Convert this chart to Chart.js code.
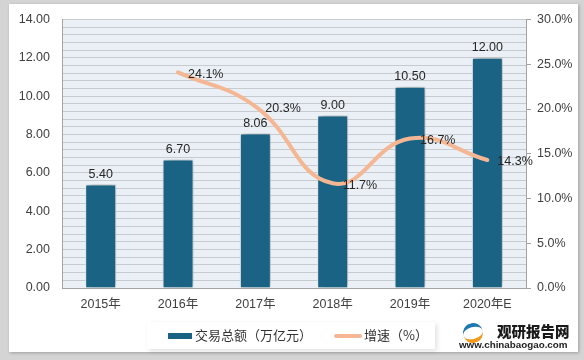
<!DOCTYPE html>
<html>
<head>
<meta charset="utf-8">
<script src="https://cdn.jsdelivr.net/npm/chart.js@4.4.1/dist/chart.umd.min.js"></script>
<style>
  html, body { margin: 0; padding: 0; }
  body { width: 584px; height: 360px; background: #d4d4d4; position: relative; overflow: hidden;
         font-family: 'Liberation Sans', 'Noto Sans CJK SC', sans-serif; }
  .panel { position: absolute; left: 9px; top: 4px; width: 569px; height: 348px; background: #fff;
           box-shadow: 1px 1px 3px rgba(0,0,0,0.25); }
  #chart { position: absolute; left: 0; top: 0; }
  .legend { position: absolute; left: 147px; top: 322px; width: 288px; height: 27px; background: #fff;
            box-shadow: 2px 2px 5px rgba(0,0,0,0.12); font-family: 'Noto Sans CJK SC', sans-serif;
            font-size: 13px; color: #333; }
  .legend .item { position: absolute; top: 4px; line-height: 18px; white-space: nowrap; }
  .sw-bar { display: inline-block; width: 24px; height: 6px; background: #1b6385; vertical-align: middle; margin-right: 3px; }
  .sw-line { display: inline-block; width: 28px; height: 4px; border-radius: 2px; background: #f5b793; vertical-align: middle; margin-right: 2px; }
  .brand { position: absolute; left: 497px; top: 320px; font-family: 'Noto Sans CJK SC', sans-serif; font-weight: 900;
           font-size: 14.5px; color: #1a1a1a; }
  .site { position: absolute; left: 459px; top: 339px; font-family: 'Liberation Sans', sans-serif; font-weight: bold;
          font-size: 9.8px; color: #222; }
  .logo { position: absolute; left: 463px; top: 323px; width: 20px; height: 12px; border-radius: 50%;
          border-top: 4px solid #1f78b4; border-bottom: 4px solid #f39a1e; transform: rotate(-15deg); }
</style>
</head>
<body>
<div class="panel"></div>
<canvas id="chart" width="584" height="360"></canvas>
<div class="legend">
  <div class="item" style="left:21px"><span class="sw-bar"></span>交易总额（万亿元）</div>
  <div class="item" style="left:187px"><span class="sw-line"></span>增速（%）</div>
</div>
<div class="logo"></div>
<div class="brand">观研报告网</div>
<div class="site">www.chinabaogao.com</div>
<script>
'use strict';

// ===== DATA =====
const YEARS = ['2015年', '2016年', '2017年', '2018年', '2019年', '2020年E'];
const VOLUME = [5.40, 6.70, 8.06, 9.00, 10.50, 12.00];      // 交易总额（万亿元）
const GROWTH = [null, 24.1, 20.3, 11.7, 16.7, 14.3];        // 增速（%）
const LEFT_TICKS = [0, 2, 4, 6, 8, 10, 12, 14];
const RIGHT_TICKS = [0, 5, 10, 15, 20, 25, 30];

const FONT = "'Liberation Sans', 'Noto Sans CJK SC', sans-serif";
const TEXT = '#404040';
const AXIS = '#a3a3a3';

// plot background
const plotBg = {
  id: 'plotBg',
  beforeDraw(chart) {
    const { ctx, chartArea: a } = chart;
    ctx.save();
    ctx.fillStyle = '#eaf0f5';
    ctx.fillRect(a.left, a.top, a.right - a.left, a.bottom - a.top);
    ctx.restore();
  }
};

// soft shadow behind the bars
const barShadow = {
  id: 'barShadow',
  beforeDatasetDraw(chart, args) {
    if (args.meta.type !== 'bar') return;
    const ctx = chart.ctx;
    ctx.save();
    ctx.shadowColor = 'rgba(0,0,0,0.4)';
    ctx.shadowBlur = 7;
    ctx.shadowOffsetX = 2;
    ctx.shadowOffsetY = -1;
  },
  afterDatasetDraw(chart, args) {
    if (args.meta.type !== 'bar') return;
    chart.ctx.restore();
  }
};

// value labels
const valueLabels = {
  id: 'valueLabels',
  afterDatasetsDraw(chart) {
    const ctx = chart.ctx;
    ctx.save();
    ctx.fillStyle = '#262626';
    ctx.font = '12.5px ' + FONT;

    const bars = chart.getDatasetMeta(0).data;
    ctx.textAlign = 'center';
    ctx.textBaseline = 'bottom';
    bars.forEach((el, i) => {
      ctx.fillText(VOLUME[i].toFixed(2), el.x, el.y - 4);
    });

    const pts = chart.getDatasetMeta(1).data;
    ctx.textAlign = 'left';
    ctx.textBaseline = 'middle';
    pts.forEach((el, i) => {
      if (GROWTH[i] == null) return;
      ctx.fillText(GROWTH[i].toFixed(1) + '%', el.x + 10, el.y + 2);
    });
    ctx.restore();
  }
};

new Chart(document.getElementById('chart'), {
  data: {
    labels: YEARS,
    datasets: [
      {
        type: 'bar',
        label: '交易总额（万亿元）',
        data: VOLUME,
        yAxisID: 'y',
        backgroundColor: '#1b6385',
        borderColor: '#ffffff',
        borderWidth: 1,
        categoryPercentage: 1,
        barPercentage: 0.4,
        order: 2
      },
      {
        type: 'line',
        label: '增速（%）',
        data: GROWTH,
        yAxisID: 'y1',
        borderColor: '#f5b793',
        borderWidth: 4,
        borderCapStyle: 'round',
        tension: 0.45,
        pointRadius: 0,
        fill: false,
        order: 1
      }
    ]
  },
  options: {
    responsive: false,
    animation: false,
    layout: { padding: { top: 18, left: 0, right: 0, bottom: 0 } },
    plugins: { legend: { display: false }, tooltip: { enabled: false } },
    scales: {
      x: {
        grid: { display: false, drawTicks: false },
        border: { display: true, color: AXIS },
        ticks: { color: TEXT, font: { family: FONT, size: 12.5 }, padding: 9 },
        afterFit(s) { s.height = 72; }
      },
      y: {
        position: 'left',
        min: LEFT_TICKS[0],
        max: LEFT_TICKS[LEFT_TICKS.length - 1],
        grid: { color: '#c6cbd0', drawTicks: false },
        border: { color: AXIS },
        ticks: {
          stepSize: 0.4,
          autoSkip: false,
          padding: 12,
          color: TEXT,
          font: { family: FONT, size: 12.5 },
          callback(v) {
            const hit = LEFT_TICKS.find(t => Math.abs(t - v) < 1e-6);
            return hit === undefined ? '' : hit.toFixed(2);
          }
        },
        afterFit(s) { s.width = 62; }
      },
      y1: {
        position: 'right',
        min: RIGHT_TICKS[0],
        max: RIGHT_TICKS[RIGHT_TICKS.length - 1],
        grid: { drawOnChartArea: false, tickLength: 5, tickColor: AXIS },
        border: { color: AXIS },
        ticks: {
          stepSize: 5,
          padding: 6,
          color: TEXT,
          font: { family: FONT, size: 12.5 },
          callback: v => v.toFixed(1) + '%'
        },
        afterFit(s) { s.width = 58; }
      }
    }
  },
  plugins: [plotBg, barShadow, valueLabels]
});
</script>
</body>
</html>
